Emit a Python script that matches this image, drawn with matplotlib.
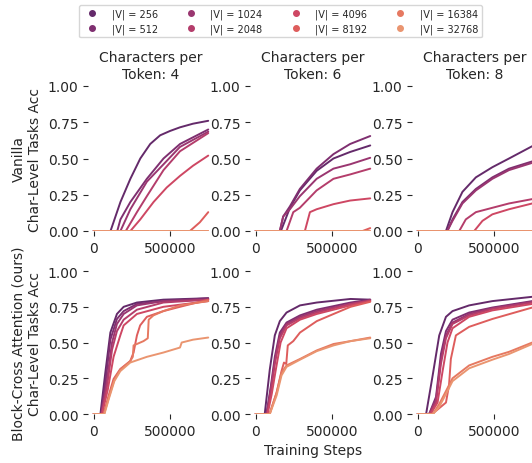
"""Char-level task accuracy vs training steps, vanilla vs block-cross attention."""

import matplotlib

matplotlib.use("Agg")
import matplotlib.pyplot as plt
import numpy as np
import seaborn as sns
from matplotlib.lines import Line2D

VOCAB = [256, 512, 1024, 2048, 4096, 8192, 16384, 32768]
CPT = [4, 6, 8]

# (steps in thousands, accuracy), one pair per vocab size
van4 = [
    ([0, 110, 175, 240, 305, 370, 435, 500, 565, 650, 750],
     [0, 0, 0.20, 0.36, 0.50, 0.60, 0.66, 0.69, 0.715, 0.74, 0.76]),
    ([0, 154, 175, 240, 348, 457, 565, 750], [0, 0, 0.08, 0.20, 0.36, 0.50, 0.60, 0.70]),
    ([0, 175, 240, 348, 457, 565, 750], [0, 0, 0.15, 0.34, 0.46, 0.58, 0.685]),
    ([0, 210, 283, 348, 457, 565, 750], [0, 0, 0.13, 0.24, 0.42, 0.55, 0.675]),
    ([0, 240, 305, 392, 478, 565, 650, 750], [0, 0, 0.08, 0.20, 0.30, 0.38, 0.45, 0.52]),
    ([0, 630, 695, 750], [0, 0, 0.06, 0.13]),
    ([0, 750], [0, 0]),
    ([0, 750], [0, 0]),
]
van6 = [
    ([0, 165, 224, 289, 399, 509, 618, 750], [0, 0, 0.16, 0.28, 0.415, 0.50, 0.545, 0.59]),
    ([0, 158, 180, 224, 289, 399, 509, 618, 750], [0, 0, 0.10, 0.17, 0.29, 0.43, 0.53, 0.60, 0.655]),
    ([0, 158, 180, 224, 289, 399, 509, 618, 750], [0, 0, 0.10, 0.15, 0.24, 0.36, 0.43, 0.46, 0.505]),
    ([0, 202, 246, 289, 399, 509, 618, 750], [0, 0, 0.13, 0.16, 0.28, 0.36, 0.39, 0.43]),
    ([0, 322, 355, 399, 509, 618, 750], [0, 0, 0.13, 0.15, 0.185, 0.21, 0.225]),
    ([0, 700, 750], [0, 0, 0.02]),
    ([0, 750], [0, 0]),
    ([0, 750], [0, 0]),
]
van8 = [
    ([0, 185, 228, 293, 381, 489, 598, 750], [0, 0, 0.13, 0.27, 0.37, 0.44, 0.50, 0.585]),
    ([0, 194, 228, 293, 381, 489, 598, 750], [0, 0, 0.08, 0.20, 0.29, 0.37, 0.43, 0.48]),
    ([0, 194, 228, 293, 381, 489, 598, 750], [0, 0, 0.07, 0.19, 0.28, 0.36, 0.42, 0.47]),
    ([0, 272, 315, 381, 489, 598, 750], [0, 0, 0.08, 0.13, 0.16, 0.19, 0.22]),
    ([0, 370, 424, 489, 598, 750], [0, 0, 0.07, 0.115, 0.15, 0.19]),
    ([0, 750], [0, 0]),
    ([0, 750], [0, 0]),
    ([0, 750], [0, 0]),
]
bca4 = [
    ([0, 44, 76, 109, 152, 196, 283, 456, 750], [0, 0, 0.29, 0.57, 0.70, 0.75, 0.78, 0.80, 0.81]),
    ([0, 48, 80, 109, 152, 196, 283, 456, 750], [0, 0, 0.25, 0.52, 0.665, 0.72, 0.77, 0.79, 0.81]),
    ([0, 50, 85, 120, 152, 196, 283, 456, 750], [0, 0, 0.22, 0.50, 0.63, 0.70, 0.76, 0.79, 0.80]),
    ([0, 52, 88, 120, 152, 196, 283, 456, 750], [0, 0, 0.20, 0.45, 0.58, 0.66, 0.73, 0.78, 0.80]),
    ([0, 55, 92, 130, 174, 196, 283, 456, 750], [0, 0, 0.17, 0.40, 0.55, 0.62, 0.70, 0.75, 0.79]),
    ([0, 65, 98, 130, 174, 239, 261, 283, 304, 348, 456, 565, 750],
     [0, 0, 0.13, 0.245, 0.315, 0.37, 0.43, 0.55, 0.62, 0.68, 0.72, 0.75, 0.80]),
    ([0, 68, 100, 135, 174, 239, 256, 261, 283, 326, 354, 360, 391, 456, 565, 750],
     [0, 0, 0.12, 0.24, 0.31, 0.37, 0.40, 0.48, 0.49, 0.51, 0.53, 0.66, 0.69, 0.72, 0.76, 0.79]),
    ([0, 70, 100, 135, 174, 239, 348, 456, 565, 576, 650, 750],
     [0, 0, 0.11, 0.23, 0.30, 0.36, 0.40, 0.43, 0.465, 0.50, 0.52, 0.535]),
]
bca6 = [
    ([0, 59, 92, 125, 158, 202, 290, 400, 621, 750], [0, 0, 0.31, 0.55, 0.65, 0.71, 0.76, 0.78, 0.805, 0.80]),
    ([0, 70, 100, 125, 158, 202, 290, 400, 621, 750], [0, 0, 0.20, 0.40, 0.57, 0.64, 0.69, 0.73, 0.78, 0.80]),
    ([0, 72, 100, 125, 158, 202, 290, 400, 621, 750], [0, 0, 0.18, 0.37, 0.55, 0.63, 0.68, 0.72, 0.77, 0.79]),
    ([0, 75, 100, 125, 158, 202, 290, 400, 621, 750], [0, 0, 0.16, 0.35, 0.53, 0.62, 0.67, 0.71, 0.77, 0.795]),
    ([0, 78, 105, 130, 163, 202, 290, 400, 621, 750], [0, 0, 0.14, 0.30, 0.50, 0.60, 0.66, 0.70, 0.76, 0.79]),
    ([0, 90, 137, 169, 185, 200, 210, 246, 290, 400, 510, 621, 750],
     [0, 0, 0.15, 0.30, 0.36, 0.35, 0.48, 0.51, 0.57, 0.65, 0.70, 0.75, 0.785]),
    ([0, 92, 137, 169, 202, 290, 400, 510, 621, 750], [0, 0, 0.15, 0.29, 0.34, 0.385, 0.445, 0.49, 0.51, 0.535]),
    ([0, 92, 137, 169, 202, 290, 400, 510, 621, 750], [0, 0, 0.13, 0.27, 0.33, 0.38, 0.44, 0.48, 0.51, 0.53]),
]
bca8 = [
    ([0, 55, 98, 141, 185, 228, 337, 489, 750], [0, 0, 0.27, 0.55, 0.68, 0.72, 0.76, 0.79, 0.82]),
    ([0, 75, 120, 152, 185, 228, 337, 489, 750], [0, 0, 0.12, 0.42, 0.58, 0.66, 0.71, 0.745, 0.79]),
    ([0, 75, 120, 152, 185, 228, 337, 489, 750], [0, 0, 0.10, 0.38, 0.55, 0.64, 0.70, 0.74, 0.785]),
    ([0, 78, 120, 152, 185, 228, 337, 489, 750], [0, 0, 0.08, 0.35, 0.53, 0.63, 0.69, 0.735, 0.78]),
    ([0, 85, 130, 163, 195, 228, 337, 489, 750], [0, 0, 0.08, 0.30, 0.50, 0.60, 0.68, 0.725, 0.77]),
    ([0, 95, 185, 205, 217, 250, 337, 489, 750], [0, 0, 0.08, 0.20, 0.385, 0.55, 0.61, 0.665, 0.745]),
    ([0, 100, 141, 185, 228, 337, 489, 598, 750], [0, 0, 0.07, 0.16, 0.25, 0.34, 0.40, 0.435, 0.50]),
    ([0, 100, 141, 185, 228, 337, 489, 598, 750], [0, 0, 0.05, 0.14, 0.23, 0.32, 0.38, 0.42, 0.49]),
]

PANELS = [[van4, van6, van8], [bca4, bca6, bca8]]
ROW_LABELS = ["Vanilla\nChar-Level Tasks Acc",
              "Block-Cross Attention (ours)\nChar-Level Tasks Acc"]

sns.set_style("ticks")
plt.rcParams["font.family"] = ["DejaVu Sans"]
colors = sns.color_palette("flare_r", len(VOCAB))

fig = plt.figure(figsize=(5.32, 4.64), dpi=100)
lefts = [0.1654, 0.4699, 0.7744]
bottoms = [0.50, 0.1056]
heights = [0.3125, 0.308]
width = 0.2368

for r in range(2):
    for c in range(3):
        ax = fig.add_axes([lefts[c], bottoms[r], width, heights[r]])
        for i, (s, v) in enumerate(PANELS[r][c]):
            ax.plot(np.array(s) * 1000, v, color=colors[i], lw=1.4)
        ax.set_ylim(0, 1)
        ax.set_yticks([0, 0.25, 0.5, 0.75, 1.0])
        ax.set_xticks([0, 500000])
        ax.tick_params(labelsize=10)
        for sp in ax.spines.values():
            sp.set_visible(False)
        if r == 0:
            ax.set_title(f"Characters per\nToken: {CPT[c]}", fontsize=10)
        if c == 0:
            ax.set_ylabel(ROW_LABELS[r], fontsize=10)
        if r == 1 and c == 1:
            ax.set_xlabel("Training Steps", fontsize=10)

handles = [Line2D([], [], marker="o", ls="", color=colors[i], ms=4) for i in range(len(VOCAB))]
labels = [f"|V| = {v}" for v in VOCAB]
fig.legend(handles, labels, loc="upper center", bbox_to_anchor=(0.527, 0.998), ncol=4,
           fontsize=7, frameon=True, columnspacing=2.4, handletextpad=1.0,
           borderpad=0.4, labelspacing=0.4)

fig.savefig("out.png", dpi=100)
